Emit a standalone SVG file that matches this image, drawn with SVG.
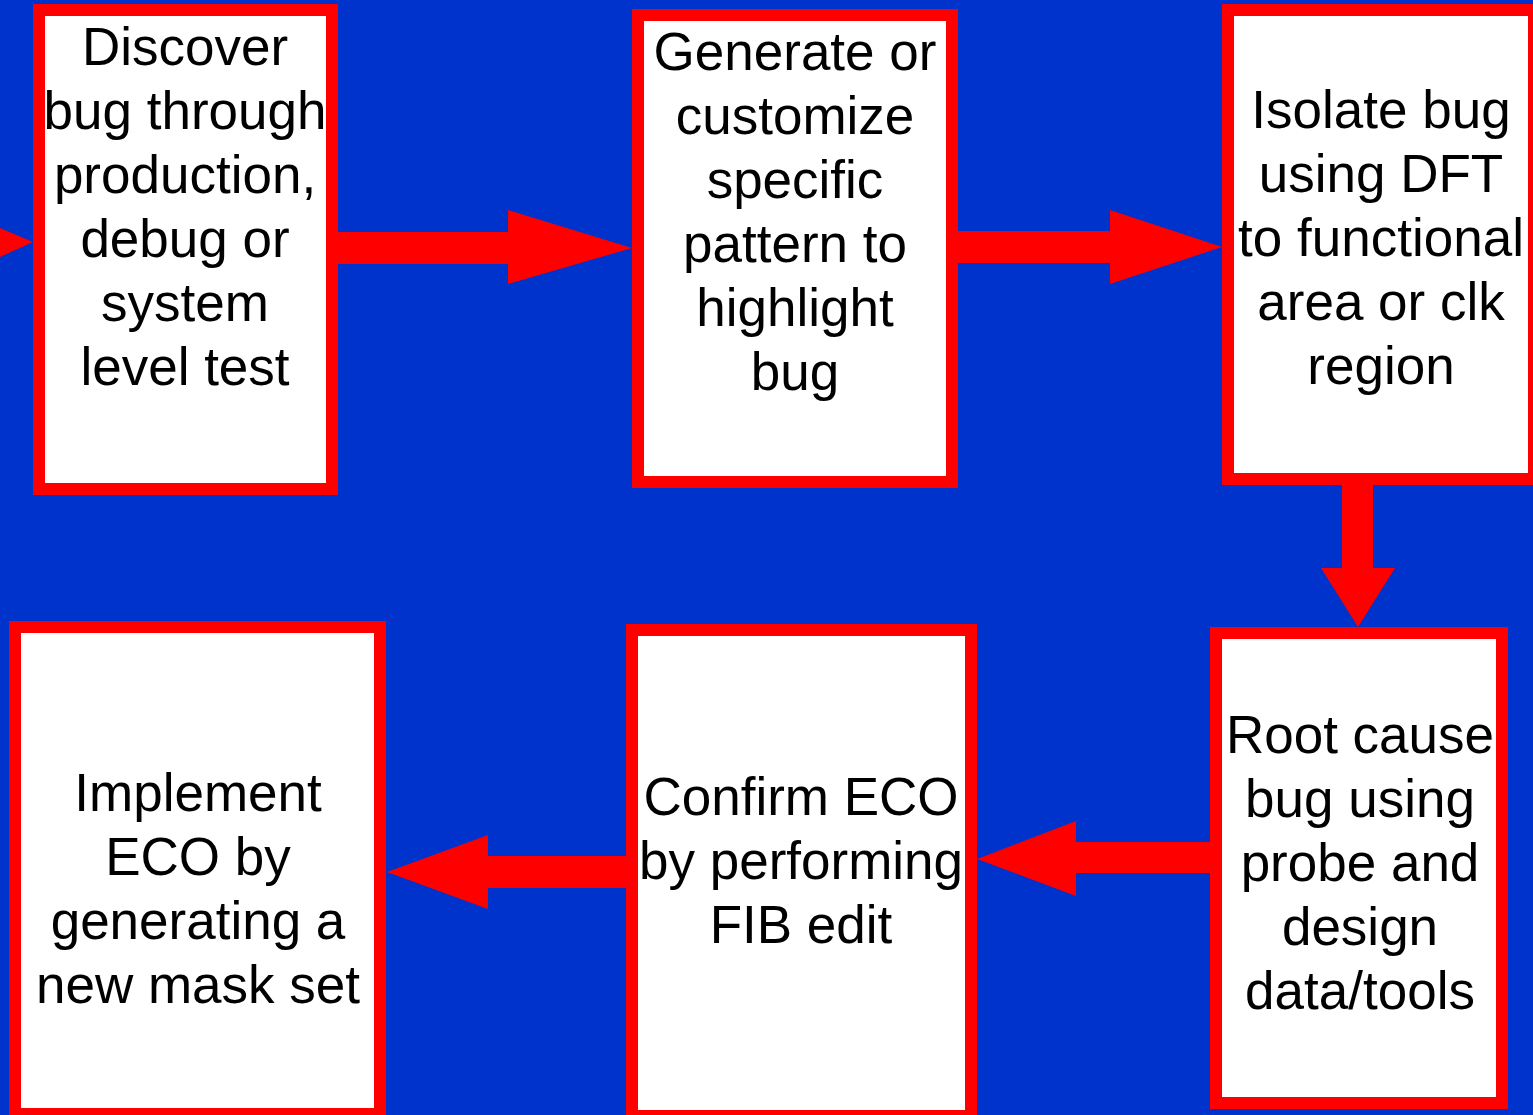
<svg xmlns="http://www.w3.org/2000/svg" width="1533" height="1115" viewBox="0 0 1533 1115">
<style>
.box{fill:#FFFFFF;stroke:#FF0000;stroke-width:12}
.arr{fill:#FF0000;stroke:none}
text{font-family:"Liberation Sans",Arial,sans-serif;font-size:53px;fill:#000000;text-anchor:middle}
</style>
<rect x="0" y="0" width="1533" height="1115" fill="#0033CC"/>
<g id="connectors">
<polygon class="arr" points="0,228 33,242 0,257"/>
<polygon class="arr" points="332,232 508,232 508,210 632,248 508,284 508,264 332,264"/>
<polygon class="arr" points="952,231 1110,231 1110,210 1222,247 1110,284 1110,263 952,263"/>
<polygon class="arr" points="1342,479 1373,479 1373,568 1395,568 1358,627 1321,568 1342,568"/>
<polygon class="arr" points="1216,842 1076,842 1076,821 977,859 1076,896 1076,873 1216,873"/>
<polygon class="arr" points="632,856 488,856 488,835 387,872 488,909 488,888 632,888"/>
</g>
<g id="node1">
<rect class="box" x="39" y="10" width="293" height="479"/>
<text x="185" y="65">Discover</text>
<text x="185" y="129">bug through</text>
<text x="185" y="193">production,</text>
<text x="185" y="257">debug or</text>
<text x="185" y="321">system</text>
<text x="185" y="385">level test</text>
</g>
<g id="node2">
<rect class="box" x="638" y="15" width="314" height="467"/>
<text x="795" y="70">Generate or</text>
<text x="795" y="134">customize</text>
<text x="795" y="198">specific</text>
<text x="795" y="262">pattern to</text>
<text x="795" y="326">highlight</text>
<text x="795" y="390">bug</text>
</g>
<g id="node3">
<rect class="box" x="1228" y="10" width="306" height="469"/>
<text x="1381" y="128">Isolate bug</text>
<text x="1381" y="192">using DFT</text>
<text x="1381" y="256">to functional</text>
<text x="1381" y="320">area or clk</text>
<text x="1381" y="384">region</text>
</g>
<g id="node4">
<rect class="box" x="1216" y="633" width="286" height="470"/>
<text x="1360" y="753">Root cause</text>
<text x="1360" y="817">bug using</text>
<text x="1360" y="881">probe and</text>
<text x="1360" y="945">design</text>
<text x="1360" y="1009">data/tools</text>
</g>
<g id="node5">
<rect class="box" x="632" y="630" width="339" height="486"/>
<text x="801" y="815">Confirm ECO</text>
<text x="801" y="879">by performing</text>
<text x="801" y="943">FIB edit</text>
</g>
<g id="node6">
<rect class="box" x="15" y="627" width="365" height="487"/>
<text x="198" y="811">Implement</text>
<text x="198" y="875">ECO by</text>
<text x="198" y="939">generating a</text>
<text x="198" y="1003">new mask set</text>
</g>
</svg>
